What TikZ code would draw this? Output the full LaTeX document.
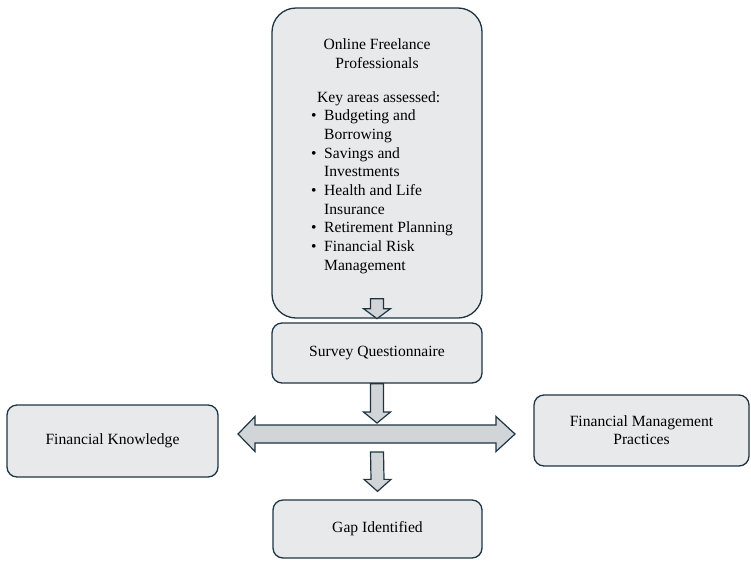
\documentclass[tikz,border=0pt]{standalone}
\usepackage{fontspec}
\setmainfont{Liberation Serif}
\usetikzlibrary{positioning,calc}
\definecolor{boxfill}{HTML}{E8E9EB}
\definecolor{boxline}{HTML}{1E3443}
\definecolor{arrfill}{HTML}{D2D5D8}
\newcommand{\bul}{\makebox[13pt][l]{\textbullet}}
\newcommand{\ind}{\hspace*{13pt}}
% down block arrow: from #1 to tip #2, head length #3
\newcommand{\vblock}[3]{%
  \draw[blockarr] ($(#1)+(-6.5,0)$) -- ($(#2)+(-6.5,-#3)$) -- ($(#2)+(-13.5,-#3)$) -- (#2)
    -- ($(#2)+(13.5,-#3)$) -- ($(#2)+(6.5,-#3)$) -- ($(#1)+(6.5,0)$) -- cycle;}
\begin{document}
\begin{tikzpicture}[x=1pt,y=-1pt]
\tikzset{stage/.style={draw=boxline,fill=boxfill,line width=1.3pt,rounded corners=10pt,
           align=center,font=\fontsize{15.6}{18}\selectfont},
         blockarr/.style={draw=boxline,fill=arrfill,line width=1.2pt,line join=miter}}
\useasboundingbox (0,0) rectangle (751,560);

% the boxes
\node[stage,rounded corners=24pt,minimum width=210,minimum height=310] (online) at (377,163) {};
\node[stage,minimum width=210,minimum height=60] (survey) at (377,353) {Survey Questionnaire};
\node[stage,minimum width=211,minimum height=72] (know) at (112.5,441) {Financial Knowledge};
\node[stage,minimum width=215,minimum height=71] (manage) at (641.5,430.5) {Financial Management\\Practices};
\node[stage,minimum width=209,minimum height=58] (gap) at (377.5,529) {Gap Identified};

% text of the first box
\node[anchor=north,align=center,inner sep=0,font=\fontsize{15.6}{19}\selectfont] (title)
    at (377,38) {Online Freelance\\Professionals};
\node[anchor=north west,align=left,inner sep=0,font=\fontsize{15.6}{18.7}\selectfont] (areas)
    at (311,91) {\hspace*{6pt}Key areas assessed:\\
    \bul Budgeting and\\ \ind Borrowing\\
    \bul Savings and\\ \ind Investments\\
    \bul Health and Life\\ \ind Insurance\\
    \bul Retirement Planning\\
    \bul Financial Risk\\ \ind Management};

% the arrows
\coordinate (lnkW) at (238,434);
\coordinate (lnkE) at (515,434);
\coordinate (hub) at (377,434);
\vblock{$(online.south)+(0,-20)$}{online.south}{10}
\vblock{survey.south}{$(hub)+(0,-11)$}{11}
\draw[blockarr] (lnkW) -- ++(17,-17.5) -- ++(0,8.5) -- ($(lnkE)+(-19,-9)$) -- ++(0,-8.5) -- (lnkE)
    -- ++(-19,17.5) -- ++(0,-8.5) -- ($(lnkW)+(17,9)$) -- ++(0,8.5) -- cycle;
\vblock{$(hub)+(0,18)$}{$(gap.north)+(0,-8)$}{12}
\end{tikzpicture}
\end{document}
